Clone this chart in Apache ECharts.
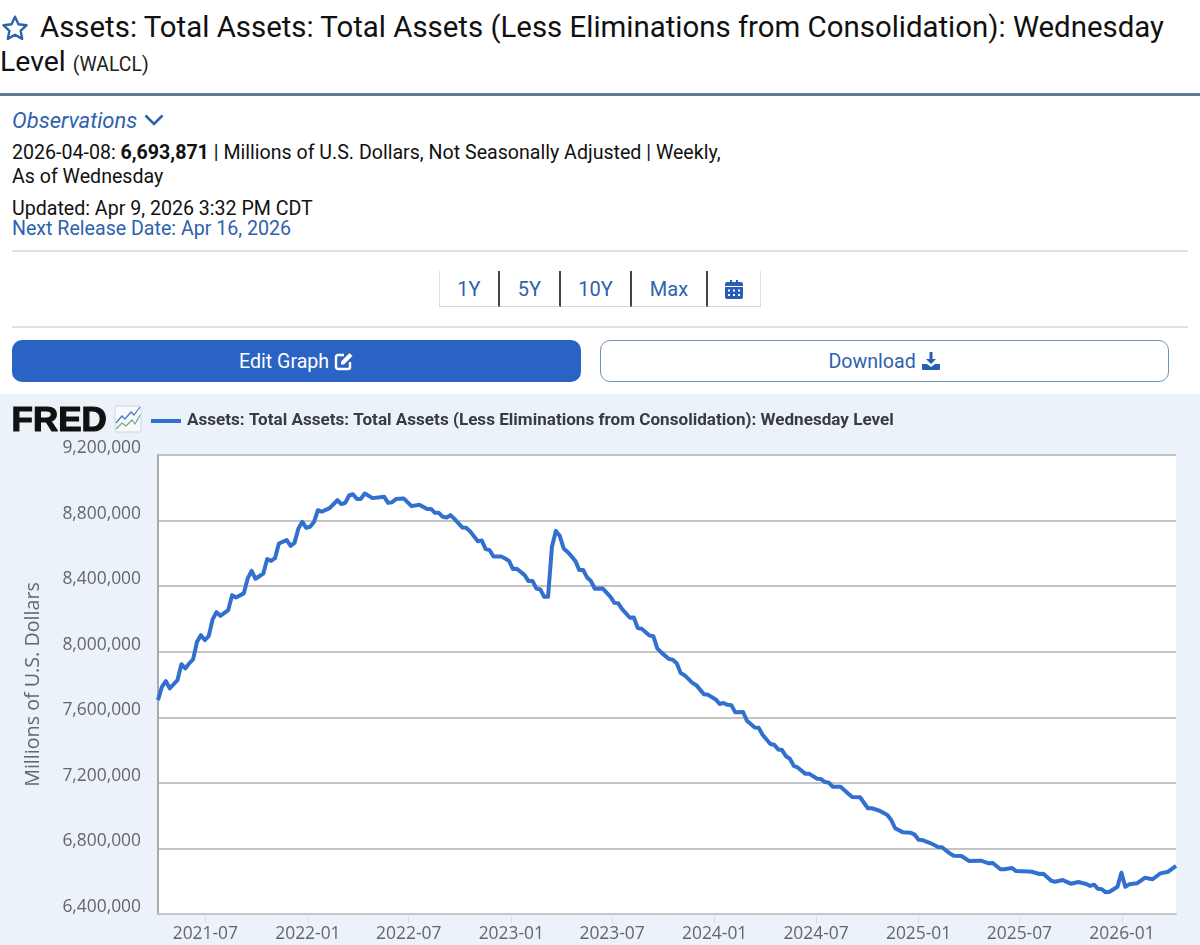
<!DOCTYPE html>
<html>
<head>
<meta charset="utf-8">
<title>WALCL</title>
<script src="https://cdn.jsdelivr.net/npm/echarts@6/dist/echarts.min.js"></script>
<style>
html,body{margin:0;padding:0;background:#fff;width:1200px;height:945px;overflow:hidden;font-family:Roboto,sans-serif}
.a{position:absolute;white-space:nowrap;line-height:1}
.blue{color:#2d62ad}
.hr{position:absolute;left:12px;width:1176px;height:2px;background:#d9e4e8}
.seg{position:absolute;top:271px;height:36px;box-sizing:border-box;border-bottom:1px solid #d8d8d8;display:flex;align-items:center;justify-content:center;font-size:20px;color:#2d62ad}
.btn{position:absolute;top:340px;height:42px;width:569px;box-sizing:border-box;border-radius:10px;display:flex;align-items:center;justify-content:center;font-size:19.6px}
svg{display:block}
#chart{position:absolute;left:0;top:394px;width:1200px;height:551px}
</style>
</head>
<body>
<svg class="a" style="left:1px;top:14px" width="28" height="28" viewBox="0 0 26 26"><path d="M13 2.500l3.200 7 7.600.9-5.600 5.200 1.500 7.500L13 19.300l-6.700 3.800 1.500-7.500-5.600-5.200 7.600-.9z" fill="none" stroke="#2d62ad" stroke-width="2.200" stroke-linejoin="round"/></svg>
<div class="a" style="left:40px;top:13px;font-size:29.4px;color:#111">Assets: Total Assets: Total Assets (Less Eliminations from Consolidation): Wednesday</div>
<div class="a" style="left:0;top:48px;font-size:28.4px;color:#111">Level <span style="font-size:19.4px;color:#222">(WALCL)</span></div>
<div class="a" style="left:0;top:93px;width:1200px;height:3px;background:#5d7b95"></div>
<div class="a blue" style="left:12px;top:110px;font-size:22px;font-style:italic">Observations</div>
<svg class="a" style="left:143px;top:113px" width="22" height="14" viewBox="0 0 22 14"><path d="M2.500 2.500L11 11l8.500-8.500" fill="none" stroke="#2d62ad" stroke-width="2.600"/></svg>
<div class="a" style="left:12px;top:143px;font-size:19.6px;color:#111">2026-04-08: <b>6,693,871</b> | Millions of U.S. Dollars, Not Seasonally Adjusted | Weekly,</div>
<div class="a" style="left:12px;top:167px;font-size:19.6px;color:#111">As of Wednesday</div>
<div class="a" style="left:12px;top:199px;font-size:19.6px;color:#111">Updated: Apr 9, 2026 3:32 PM CDT</div>
<div class="a blue" style="left:12px;top:219px;font-size:19.6px">Next Release Date: Apr 16, 2026</div>
<div class="hr" style="top:250px"></div>
<div class="seg" style="left:439px;width:61px;border-left:1px solid #ddd;border-right:2px solid #444">1Y</div>
<div class="seg" style="left:500px;width:61px;border-right:2px solid #444">5Y</div>
<div class="seg" style="left:561px;width:71px;border-right:2px solid #444">10Y</div>
<div class="seg" style="left:632px;width:76px;border-right:2px solid #444">Max</div>
<div class="seg" style="left:708px;width:53px;border-right:1px solid #ddd">
<svg width="18" height="20" viewBox="0 0 18 20"><path d="M2 3h3V1h2v2h4V1h2v2h3a2 2 0 0 1 2 2v2H0V5a2 2 0 0 1 2-2zM0 8h18v10a2 2 0 0 1-2 2H2a2 2 0 0 1-2-2zm3 2.500v2h2v-2zm5 0v2h2v-2zm5 0v2h2v-2zM3 15v2h2v-2zm5 0v2h2v-2zm5 0v2h2v-2z" fill="#2a5db5" fill-rule="evenodd"/></svg></div>
<div class="hr" style="top:326px"></div>
<div class="btn" style="left:12px;background:#2a63c4;color:#fff">Edit Graph&nbsp;
<svg width="20" height="20" viewBox="0 0 20 20"><path d="M16 11v5a2 2 0 0 1-2 2H4a2 2 0 0 1-2-2V6a2 2 0 0 1 2-2h6" fill="none" stroke="#fff" stroke-width="2.400"/><path d="M7 10.500L15.500 2l3 3L10 13.500H7z" fill="#fff"/></svg></div>
<div class="btn" style="left:600px;background:#fff;color:#2d62ad;border:1.500px solid #6f93bf">Download&nbsp;
<svg width="20" height="20" viewBox="0 0 20 20"><path d="M8.500 1h3v7h3.500L10 13 5 8h3.500z" fill="#2a5db5"/><path d="M1 13h5l4 3 4-3h5v5a1 1 0 0 1-1 1H2a1 1 0 0 1-1-1z" fill="#2a5db5"/></svg></div>
<div id="chart"></div>
<script>
const seriesName = 'Assets: Total Assets: Total Assets (Less Eliminations from Consolidation): Wednesday Level';
const yAxisName = 'Millions of U.S. Dollars';
const firstObservation = '2021-04-07';
const lastWeek = 261;
const tickDates = ['2021-07-01','2022-01-01','2022-07-01','2023-01-01','2023-07-01','2024-01-01','2024-07-01','2025-01-01','2025-07-01','2026-01-01'];
const weekNumbers = [0,1,2,3,5,6,7,8,9,10,11,12,13,14,15,16,18,19,20,22,23,24,25,27,28,29,30,31,33,34,35,36,37,38,39,40,41,42,44,46,47,48,49,50,51,52,53,55,58,59,60,61,63,65,67,69,70,71,72,73,74,75,76,78,79,80,82,83,84,85,86,88,89,90,91,92,94,95,96,97,98,99,100,101,102,103,104,105,106,107,108,109,110,111,112,114,116,117,118,119,121,122,123,124,126,127,128,129,131,132,133,134,135,137,138,140,141,143,144,145,146,147,148,150,151,153,154,155,157,158,159,160,161,162,163,164,166,167,169,170,171,172,173,175,177,178,180,182,183,185,187,188,189,191,193,194,195,196,198,200,201,203,204,206,208,211,213,214,216,217,219,220,223,224,226,227,229,230,232,234,236,238,239,240,241,242,243,244,246,247,248,249,251,253,255,257,259,261];
// total assets, millions of U.S. dollars
const totalAssets = [7705000,7786000,7821000,7776000,7827000,7924000,7898000,7929000,7953000,8060000,8101000,8071000,8095000,8197000,8241000,8219000,8254000,8345000,8331000,8356000,8447000,8493000,8445000,8477000,8565000,8554000,8571000,8660000,8681000,8646000,8664000,8752000,8792000,8756000,8762000,8792000,8863000,8855000,8876000,8924000,8900000,8908000,8953000,8961000,8932000,8932000,8965000,8937000,8945000,8908000,8912000,8931000,8935000,8888000,8896000,8870000,8871000,8847000,8847000,8823000,8819000,8833000,8810000,8758000,8756000,8735000,8674000,8679000,8626000,8620000,8581000,8581000,8569000,8554000,8504000,8506000,8467000,8431000,8432000,8386000,8380000,8335000,8335000,8640000,8737000,8707000,8630000,8609000,8583000,8554000,8499000,8499000,8453000,8431000,8384000,8386000,8335000,8298000,8295000,8260000,8207000,8209000,8144000,8140000,8099000,8095000,8020000,7996000,7955000,7951000,7929000,7870000,7857000,7810000,7796000,7740000,7737000,7709000,7681000,7687000,7676000,7674000,7630000,7632000,7579000,7538000,7536000,7493000,7437000,7432000,7404000,7400000,7362000,7347000,7304000,7294000,7255000,7255000,7225000,7223000,7205000,7201000,7176000,7176000,7134000,7113000,7112000,7045000,7045000,7030000,7004000,6973000,6923000,6898000,6896000,6884000,6853000,6851000,6833000,6809000,6807000,6770000,6755000,6754000,6723000,6725000,6709000,6711000,6673000,6673000,6680000,6662000,6660000,6658000,6644000,6646000,6603000,6597000,6607000,6585000,6595000,6583000,6571000,6579000,6554000,6551000,6532000,6536000,6566000,6652000,6566000,6581000,6587000,6621000,6612000,6648000,6658000,6693871];
const yMin = 6400000, yMax = 9200000, yStep = 400000;

const DAY = 86400000;
const t0 = Date.parse(firstObservation + 'T00:00:00Z');
const points = weekNumbers.map((w, i) => [t0 + w * 7 * DAY, totalAssets[i]]);
const tickTimes = tickDates.map(d => Date.parse(d + 'T00:00:00Z'));
const LABEL = '#666666';
const chart = echarts.init(document.getElementById('chart'));
chart.setOption({
  animation: false,
  backgroundColor: '#EBF2FA',
  grid: {left: 158, top: 61, right: 24, bottom: 31, show: true, backgroundColor: '#fff', borderWidth: 0},
  xAxis: {
    type: 'value',
    min: t0, max: t0 + lastWeek * 7 * DAY, scale: true,
    axisLine: {show: true, onZero: false, lineStyle: {color: '#c6c6c6', width: 2}},
    axisTick: {show: true, length: 9, lineStyle: {color: '#d5dde8', width: 1}, customValues: tickTimes},
    axisLabel: {
      customValues: tickTimes,
      formatter: v => { const d = new Date(v); return d.getUTCFullYear() + '-' + String(d.getUTCMonth() + 1).padStart(2, '0'); },
      color: LABEL, fontFamily: '"Open Sans"', fontSize: 17.4, margin: 12, hideOverlap: false
    },
    splitLine: {show: false}, minorTick: {show: false}
  },
  yAxis: {
    type: 'value', min: yMin, max: yMax, interval: yStep,
    name: yAxisName, nameLocation: 'middle', nameGap: 115, nameRotate: 90,
    nameTextStyle: {color: LABEL, fontFamily: '"Open Sans"', fontSize: 19.7},
    axisLine: {show: true, onZero: false, lineStyle: {color: '#ababab', width: 2}},
    axisTick: {show: false},
    axisLabel: {
      color: LABEL, fontFamily: '"Open Sans"', fontSize: 17.4, margin: 17, verticalAlign: 'bottom', lineHeight: 14,
      formatter: v => v.toLocaleString('en-US')
    },
    splitLine: {show: true, lineStyle: {color: '#c4c4c4', width: 2}}
  },
  series: [{
    name: seriesName, type: 'line', data: points, symbol: 'none', clip: true,
    lineStyle: {color: '#3270d0', width: 4, join: 'round'}
  }],
  graphic: [
    {type: 'text', left: 11, top: 9, style: {text: 'FRED', fill: '#111', font: '900 35px "Liberation Sans"', stroke: '#111', lineWidth: 1.200}},
    {type: 'rect', shape: {x: 115, y: 12, width: 26, height: 26, r: 2}, style: {fill: '#f7f9fb', stroke: '#cfd6dc', lineWidth: 1}},
    {type: 'polyline', shape: {points: [[116,29],[122,22],[125,25],[131,18],[134,21],[140,13]]}, style: {fill: 'none', stroke: '#4a78b8', lineWidth: 1.200}},
    {type: 'polyline', shape: {points: [[116,35],[122,29],[126,32],[132,26],[135,30],[140,21]]}, style: {fill: 'none', stroke: '#6ea58a', lineWidth: 1.200}},
    {type: 'line', shape: {x1: 151, y1: 27, x2: 181, y2: 27}, style: {stroke: '#3270d0', lineWidth: 4}},
    {type: 'text', left: 187, top: 18, style: {text: seriesName, fill: '#383b40', font: 'bold 17.1px Roboto'}}
  ]
});
</script>
</body>
</html>
